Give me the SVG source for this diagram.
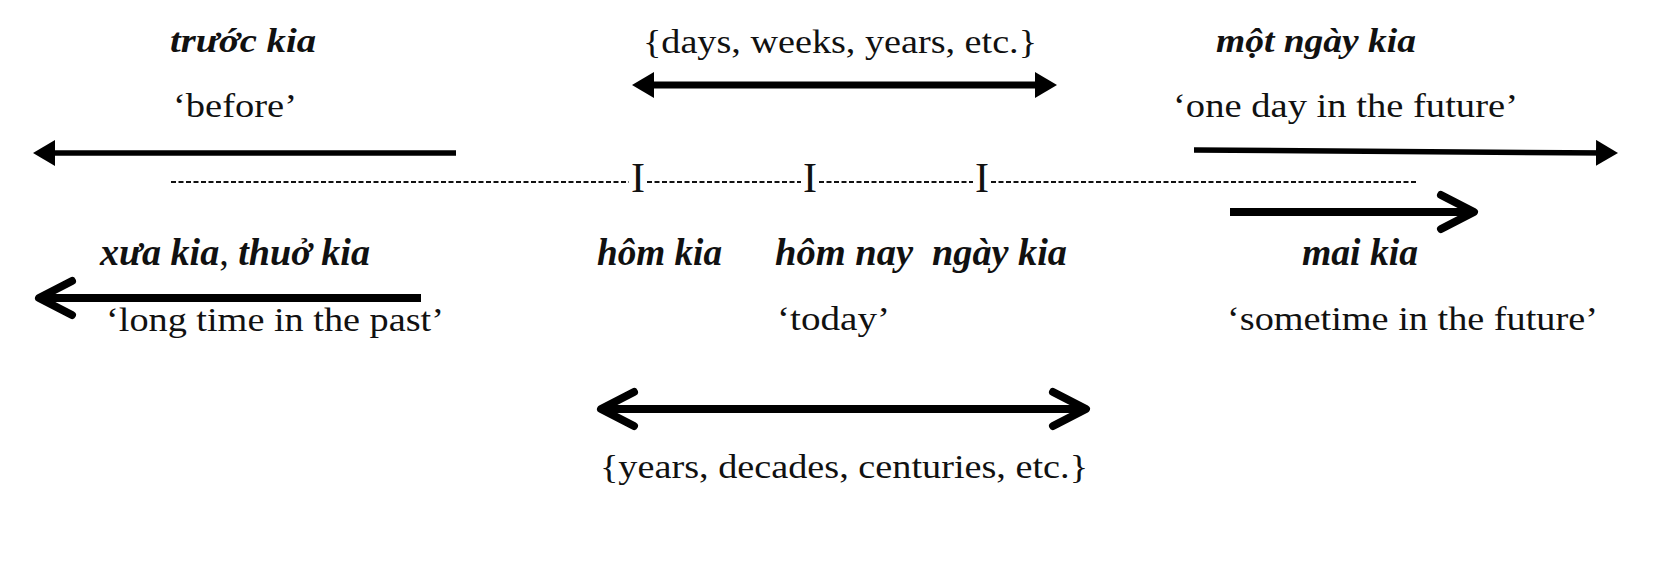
<svg xmlns="http://www.w3.org/2000/svg" width="1662" height="568" viewBox="0 0 1662 568">
<style>
  text { font-family: "Liberation Serif", "Times New Roman", serif; fill: #111; }
  .r { font-size: 34px; }
  .it { font-style: italic; font-weight: bold; }
  .s { font-size: 34px; }
  .b { font-size: 38px; }
  .tick { font-size: 42px; text-anchor: middle; }
  .ln { stroke: #000; fill: none; }
  .dash { stroke: #111; stroke-width: 1.8; stroke-dasharray: 5 2.5; }
</style>
<defs>
  <marker id="tri" markerUnits="userSpaceOnUse" viewBox="0 0 22 26" markerWidth="22" markerHeight="26" refX="14" refY="13" orient="auto-start-reverse">
    <path d="M0,0 L22,13 L0,26 z" fill="#000"/>
  </marker>
  <marker id="chev" markerUnits="userSpaceOnUse" viewBox="-5 -5 45 44" markerWidth="45" markerHeight="44" refX="33" refY="17" orient="auto-start-reverse">
    <path d="M0,0 L33,17 L0,34" fill="none" stroke="#000" stroke-width="8" stroke-linejoin="round" stroke-linecap="round"/>
  </marker>
</defs>

<g id="connectors">
  <line id="arrow-before" class="ln" x1="456" y1="153" x2="41" y2="153" stroke-width="5.5" marker-end="url(#tri)"/>
  <line id="arrow-days" class="ln" x1="640" y1="85" x2="1049" y2="85" stroke-width="7" marker-start="url(#tri)" marker-end="url(#tri)"/>
  <line id="arrow-one-day" class="ln" x1="1194" y1="150" x2="1610" y2="153" stroke-width="5.5" marker-end="url(#tri)"/>
  <line id="arrow-long-ago" class="ln" x1="421" y1="298" x2="39" y2="298" stroke-width="8" marker-end="url(#chev)"/>
  <line id="arrow-mai-kia" class="ln" x1="1230" y1="212" x2="1474" y2="212" stroke-width="8" marker-end="url(#chev)"/>
  <line id="arrow-years" class="ln" x1="601" y1="409" x2="1086" y2="409" stroke-width="8" marker-start="url(#chev)" marker-end="url(#chev)"/>
</g>

<g id="timeline">
  <line class="dash" x1="171" y1="182" x2="629" y2="182"/>
  <line class="dash" x1="647" y1="182" x2="801" y2="182"/>
  <line class="dash" x1="819" y1="182" x2="973" y2="182"/>
  <line class="dash" x1="991" y1="182" x2="1417" y2="182"/>
  <text class="tick" x="638" y="192">I</text>
  <text class="tick" x="810" y="192">I</text>
  <text class="tick" x="982" y="192">I</text>
</g>

<g id="node-truoc-kia">
  <text class="s it" x="170" y="52" textLength="146" lengthAdjust="spacingAndGlyphs">trước kia</text>
  <text class="r" x="173" y="117" textLength="124" lengthAdjust="spacingAndGlyphs">‘before’</text>
</g>

<g id="node-days">
  <text class="r" x="643" y="53" textLength="394" lengthAdjust="spacingAndGlyphs">{days, weeks, years, etc.}</text>
</g>

<g id="node-mot-ngay-kia">
  <text class="s it" x="1216" y="52" textLength="200" lengthAdjust="spacingAndGlyphs">một ngày kia</text>
  <text class="r" x="1173" y="117" textLength="345" lengthAdjust="spacingAndGlyphs">‘one day in the future’</text>
</g>

<g id="node-xua-kia">
  <text class="b" x="100" y="265" textLength="270" lengthAdjust="spacingAndGlyphs"><tspan class="it">xưa kia</tspan>, <tspan class="it">thuở kia</tspan></text>
  <text class="r" x="106" y="331" textLength="338" lengthAdjust="spacingAndGlyphs">‘long time in the past’</text>
</g>

<g id="node-hom-kia">
  <text class="b it" x="597" y="265" textLength="125" lengthAdjust="spacingAndGlyphs">hôm kia</text>
</g>

<g id="node-hom-nay">
  <text class="b it" x="775" y="265" textLength="138" lengthAdjust="spacingAndGlyphs">hôm nay</text>
  <text class="r" x="777" y="330" textLength="113" lengthAdjust="spacingAndGlyphs">‘today’</text>
</g>

<g id="node-ngay-kia">
  <text class="b it" x="932" y="265" textLength="135" lengthAdjust="spacingAndGlyphs">ngày kia</text>
</g>

<g id="node-mai-kia">
  <text class="b it" x="1302" y="265" textLength="116" lengthAdjust="spacingAndGlyphs">mai kia</text>
  <text class="r" x="1227" y="330" textLength="371" lengthAdjust="spacingAndGlyphs">‘sometime in the future’</text>
</g>

<g id="node-years">
  <text class="r" x="600" y="478" textLength="488" lengthAdjust="spacingAndGlyphs">{years, decades, centuries, etc.}</text>
</g>
</svg>
